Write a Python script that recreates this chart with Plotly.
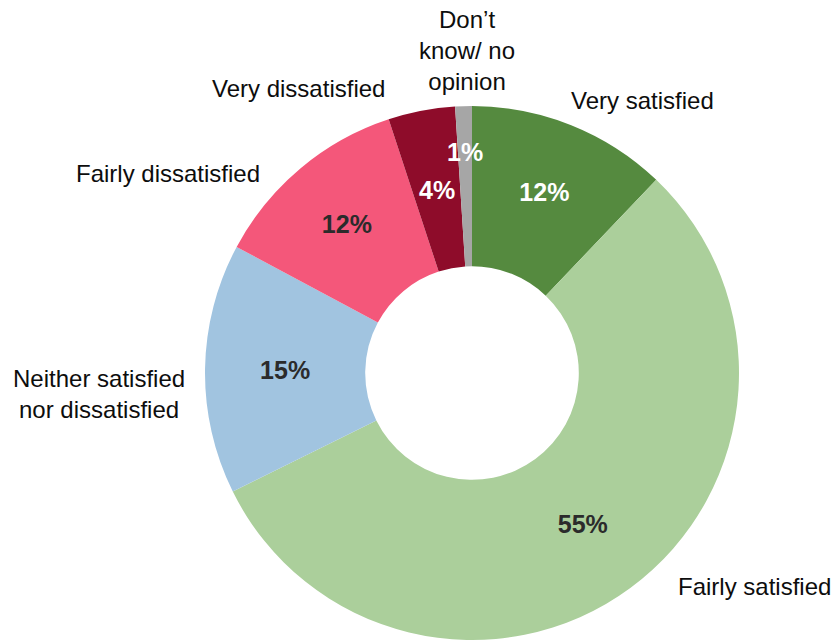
import math
import plotly.graph_objects as go

categories = ["Very satisfied", "Fairly satisfied", "Neither satisfied<br>nor dissatisfied",
              "Fairly dissatisfied", "Very dissatisfied", "Don\u2019t<br>know/ no<br>opinion"]
values = [12, 55, 15, 12, 4, 1]
colors = ["#558A3F", "#ABCF9B", "#A1C4E0", "#F4577A", "#8E0C2A", "#A6A6A6"]
pct_colors = ["#FFFFFF", "#2B2B2B", "#2B2B2B", "#2B2B2B", "#FFFFFF", "#FFFFFF"]

# outside category labels (pixel centres)
label_pos = [(642, 100), (754, 586), (99, 394), (168, 174), (298, 89), (467, 50)]
# radial distance (px) for value labels of the thin slices, drawn as annotations
thin_label_radius = {4: 186, 5: 221}

W, H = 836, 642
FONT = "Liberation Sans, Arial, sans-serif"
CX, CY = 472, 373  # pie centre in px

templates = ["" if i in thin_label_radius else "<b>%{value}%</b>" for i in range(len(values))]

fig = go.Figure(go.Pie(
    values=values,
    labels=categories,
    hole=0.40,
    sort=False,
    direction="clockwise",
    rotation=0,
    marker=dict(colors=colors, line=dict(width=0)),
    texttemplate=templates,
    textposition="inside",
    insidetextorientation="horizontal",
    textfont=dict(family=FONT, size=25, color=pct_colors),
    domain=dict(x=[205 / W, 739 / W], y=[1 - 640 / H, 1 - 106 / H]),
    showlegend=False,
    hoverinfo="label+value",
))

for name, (px, py) in zip(categories, label_pos):
    fig.add_annotation(
        x=px / W, y=1 - py / H, xref="paper", yref="paper",
        text=name, showarrow=False, align="center",
        xanchor="center", yanchor="middle",
        font=dict(family=FONT, size=24, color="#0D0D0D"),
    )

# value labels for the thin slices, placed at each slice's mid angle
total = sum(values)
cum = 0
for i, v in enumerate(values):
    if i in thin_label_radius:
        ang = math.radians((cum + v / 2) / total * 360)
        r = thin_label_radius[i]
        px = CX + r * math.sin(ang)
        py = CY - r * math.cos(ang)
        fig.add_annotation(
            x=px / W, y=1 - py / H, xref="paper", yref="paper",
            text=f"<b>{v}%</b>", showarrow=False,
            xanchor="center", yanchor="middle",
            font=dict(family=FONT, size=25, color=pct_colors[i]),
        )
    cum += v

fig.update_layout(
    width=W, height=H,
    margin=dict(l=0, r=0, t=0, b=0),
    paper_bgcolor="white", plot_bgcolor="white",
    uniformtext=dict(minsize=25, mode="show"),
)

fig.write_html("out.html")
